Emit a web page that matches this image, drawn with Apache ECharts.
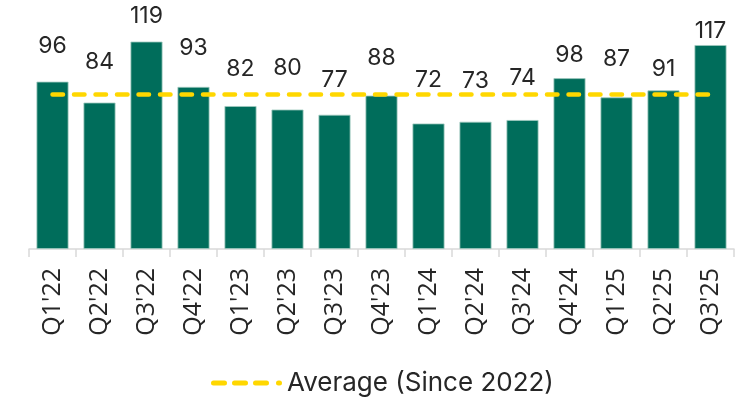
<!DOCTYPE html>
<html>
<head>
<meta charset="utf-8">
<script src="https://cdn.jsdelivr.net/npm/echarts@6/dist/echarts.min.js"></script>
<style>
html,body{margin:0;padding:0;background:#fff;}
#chart{width:744px;height:402px;}
</style>
</head>
<body>
<div id="chart"></div>
<script>
const categories = ["Q1'22","Q2'22","Q3'22","Q4'22","Q1'23","Q2'23","Q3'23","Q4'23","Q1'24","Q2'24","Q3'24","Q4'24","Q1'25","Q2'25","Q3'25"];
const values = [96, 84, 119, 93, 82, 80, 77, 88, 72, 73, 74, 98, 87, 91, 117];
const averageValue = 88.7;
const averageName = 'Average (Since 2022)';

// label offsets above bars (style only)
const labelDistances = [24, 29, 14, 27, 26, 30, 23, 26, 32, 29, 30, 12, 27, 10, 3];

const chart = echarts.init(document.getElementById('chart'), null, {renderer: 'canvas'});
const FONT = 'Inter, Roboto, sans-serif';
const CAT_FONT = '"Open Sans", Inter, sans-serif';

const barData = values.map((v, i) => ({
  value: v,
  label: { distance: labelDistances[i] }
}));

// dashed legend icon (4 rounded dashes), 71 x 5
const legendIcon = 'path://M2.5,0h11a2.5,2.5 0 0 1 0,5h-11a2.5,2.5 0 0 1 0,-5z' +
  'M23.5,0h11a2.5,2.5 0 0 1 0,5h-11a2.5,2.5 0 0 1 0,-5z' +
  'M44.5,0h11a2.5,2.5 0 0 1 0,5h-11a2.5,2.5 0 0 1 0,-5z' +
  'M67.5,0h1a2.5,2.5 0 0 1 0,5h-1a2.5,2.5 0 0 1 0,-5z';

chart.setOption({
  animation: false,
  backgroundColor: '#ffffff',
  grid: { left: 29, right: 10, top: 5, bottom: 153, containLabel: false },
  xAxis: {
    type: 'category',
    data: categories,
    boundaryGap: true,
    axisLine: { show: true, lineStyle: { color: '#d9d9d9', width: 1.5 } },
    axisTick: { show: true, length: 8, lineStyle: { color: '#d9d9d9', width: 1.5 } },
    axisLabel: {
      rotate: 90,
      margin: 19,
      interval: 0,
      color: '#262626',
      fontFamily: CAT_FONT,
      fontSize: 25
    }
  },
  yAxis: {
    type: 'value',
    min: 0,
    max: 140,
    show: false,
    splitLine: { show: false }
  },
  legend: {
    show: true,
    bottom: 1,
    left: 206,
    itemWidth: 71,
    itemHeight: 5,
    itemGap: 8,
    data: [{ name: averageName, icon: legendIcon, itemStyle: { color: '#FFD700' } }],
    textStyle: { color: '#262626', fontFamily: FONT, fontSize: 26 }
  },
  series: [
    {
      name: 'Value',
      type: 'bar',
      data: barData,
      barWidth: 32,
      itemStyle: { color: '#006D5B', borderColor: '#9fc9bf', borderWidth: 0.8 },
      label: {
        show: true,
        position: 'top',
        color: '#262626',
        fontFamily: FONT,
        fontSize: 23
      },
      z: 2
    },
    {
      name: averageName,
      type: 'line',
      data: categories.map(() => averageValue),
      symbol: 'none',
      lineStyle: {
        color: '#FFD700',
        width: 4.5,
        type: [10.5, 11],
        cap: 'round'
      },
      itemStyle: { color: '#FFD700' },
      z: 3
    }
  ]
});
</script>
</body>
</html>
